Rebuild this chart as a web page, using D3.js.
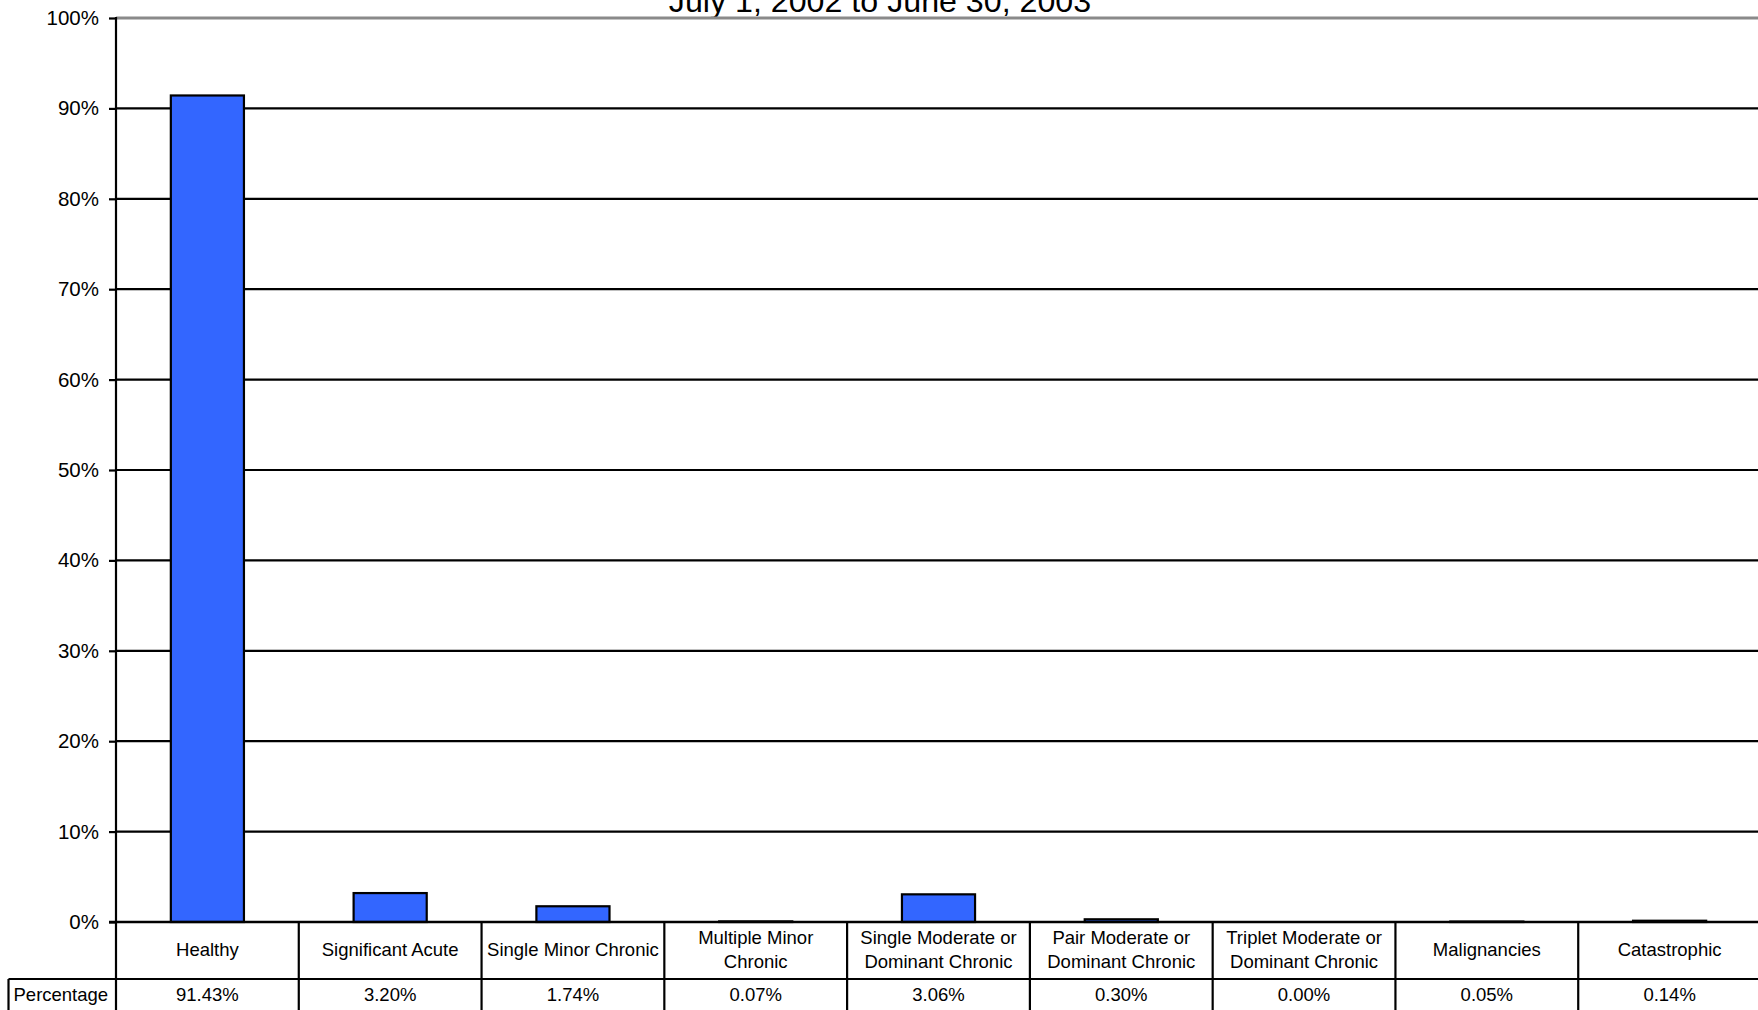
<!DOCTYPE html>
<html>
<head>
<meta charset="utf-8">
<script src="https://cdn.jsdelivr.net/npm/d3@7"></script>
<style>
  html, body { margin: 0; padding: 0; background: #fff; overflow: hidden; }
  svg { display: block; font-family: "Liberation Sans", Arial, sans-serif; }
</style>
</head>
<body>
<svg id="chart" width="1758" height="1010"></svg>
<script>
// Distribution of members by health status group
const title = "July 1, 2002 to June 30, 2003";
const categories = [
  "Healthy",
  "Significant Acute",
  "Single Minor Chronic",
  "Multiple Minor\nChronic",
  "Single Moderate or\nDominant Chronic",
  "Pair Moderate or\nDominant Chronic",
  "Triplet Moderate or\nDominant Chronic",
  "Malignancies",
  "Catastrophic"
];
const seriesName = "Percentage";
const values = [91.43, 3.20, 1.74, 0.07, 3.06, 0.30, 0.00, 0.05, 0.14];
const yTicks = [0, 10, 20, 30, 40, 50, 60, 70, 80, 90, 100];

const W = 1758, H = 1010;
const plot = { left: 116, right: 1761, top: 18, bottom: 922 };
const tableRow1Bottom = 979;
const tableLeft = 8.5;

const svg = d3.select("#chart");

const x = d3.scaleBand()
  .domain(categories)
  .range([plot.left, plot.right])
  .paddingInner(0.6)
  .paddingOuter(0.3);

const y = d3.scaleLinear()
  .domain([0, 100])
  .range([plot.bottom, plot.top]);

// Title (sits partly above the top edge)
svg.append("text")
  .attr("x", W / 2 + 1)
  .attr("y", 12)
  .attr("text-anchor", "middle")
  .attr("font-size", 32.2)
  .attr("fill", "#000")
  .text(title);

// Horizontal gridlines
svg.append("g")
  .selectAll("line")
  .data(yTicks.filter(t => t > 0))
  .join("line")
  .attr("x1", plot.left)
  .attr("x2", plot.right)
  .attr("y1", d => y(d))
  .attr("y2", d => y(d))
  .attr("stroke", d => d === 100 ? "#8a8a8a" : "#000")
  .attr("stroke-width", d => d === 100 ? 3 : 2.2);

// Bars
svg.append("g")
  .selectAll("rect")
  .data(values)
  .join("rect")
  .attr("x", (d, i) => x(categories[i]))
  .attr("width", x.bandwidth())
  .attr("y", d => y(d))
  .attr("height", d => y(0) - y(d))
  .attr("fill", d => d > 0 ? "#3366ff" : "none")
  .attr("stroke", d => d > 0 ? "#000" : "none")
  .attr("stroke-width", 2.2);

// Y axis
const yAxis = d3.axisLeft(y)
  .tickValues(yTicks)
  .tickSize(7)
  .tickPadding(10)
  .tickFormat(d => d + "%");

const gy = svg.append("g")
  .attr("transform", `translate(${plot.left},0)`)
  .call(yAxis);
gy.select(".domain").remove();
gy.selectAll(".tick line").attr("stroke", "#000").attr("stroke-width", 2.2);
gy.selectAll(".tick text")
  .attr("font-size", 20.5)
  .attr("font-family", "Liberation Sans, Arial, sans-serif")
  .attr("fill", "#000");

// Axis line running down into the data table
svg.append("line")
  .attr("x1", plot.left).attr("x2", plot.left)
  .attr("y1", plot.top - 1).attr("y2", H + 2)
  .attr("stroke", "#000").attr("stroke-width", 2.2);

// Baseline / table top
svg.append("line")
  .attr("x1", plot.left - 7).attr("x2", plot.right)
  .attr("y1", plot.bottom).attr("y2", plot.bottom)
  .attr("stroke", "#000").attr("stroke-width", 2.5);

// Data table
const table = svg.append("g");
const step = x.step();
const bandEdges = categories.map(c => x(c) - x.paddingInner() * step / 2 + step);

table.selectAll("line.col")
  .data(bandEdges)
  .join("line")
  .attr("class", "col")
  .attr("x1", d => d).attr("x2", d => d)
  .attr("y1", plot.bottom).attr("y2", H + 2)
  .attr("stroke", "#000").attr("stroke-width", 2.2);

table.append("line")
  .attr("x1", tableLeft).attr("x2", plot.right)
  .attr("y1", tableRow1Bottom).attr("y2", tableRow1Bottom)
  .attr("stroke", "#000").attr("stroke-width", 2.2);

table.append("line")
  .attr("x1", tableLeft).attr("x2", tableLeft)
  .attr("y1", tableRow1Bottom).attr("y2", H + 2)
  .attr("stroke", "#000").attr("stroke-width", 2.2);

// Category labels
const row1Mid = (plot.bottom + tableRow1Bottom) / 2 - 1;
const lineH = 23.5;
const catText = table.selectAll("text.cat")
  .data(categories)
  .join("text")
  .attr("class", "cat")
  .attr("x", d => x(d) + x.bandwidth() / 2)
  .attr("text-anchor", "middle")
  .attr("font-size", 18.5)
  .attr("fill", "#000");

catText.each(function(d) {
  const lines = d.split("\n");
  const t = d3.select(this);
  const y0 = row1Mid - (lines.length - 1) * lineH / 2;
  lines.forEach((ln, k) => {
    t.append("tspan")
      .attr("x", x(d) + x.bandwidth() / 2)
      .attr("y", y0 + k * lineH)
      .attr("dy", "0.35em")
      .text(ln);
  });
});

// Value row
const row2Mid = 994.5;
table.append("text")
  .attr("x", tableLeft + 5)
  .attr("y", row2Mid)
  .attr("dy", "0.35em")
  .attr("font-size", 18.5)
  .attr("fill", "#000")
  .text(seriesName);

table.selectAll("text.val")
  .data(values)
  .join("text")
  .attr("class", "val")
  .attr("x", (d, i) => x(categories[i]) + x.bandwidth() / 2)
  .attr("y", row2Mid)
  .attr("dy", "0.35em")
  .attr("text-anchor", "middle")
  .attr("font-size", 18.5)
  .attr("fill", "#000")
  .text(d => d.toFixed(2) + "%");
</script>
</body>
</html>
